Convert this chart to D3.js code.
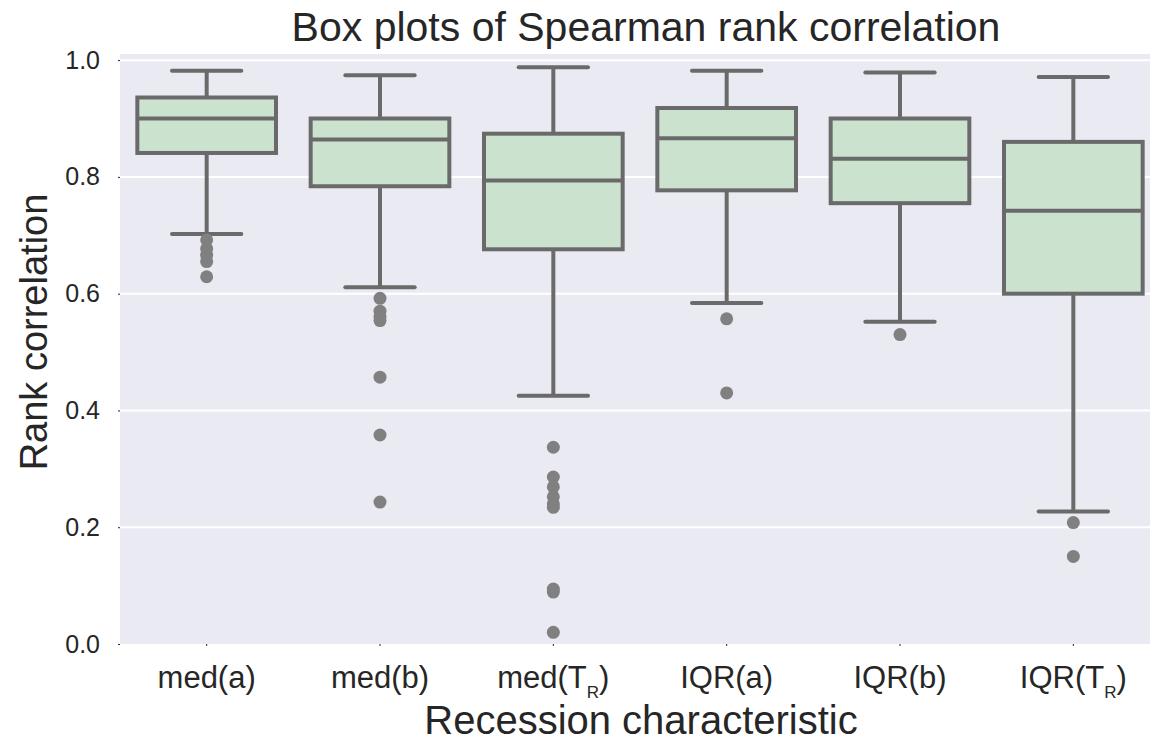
<!DOCTYPE html>
<html>
<head>
<meta charset="utf-8">
<script src="https://cdn.jsdelivr.net/npm/d3@7"></script>
<style>
  body { margin: 0; background: #fff; }
  text { font-family: "Liberation Sans", Arial, sans-serif; fill: #262626; }
</style>
</head>
<body>
<div id="chart"></div>
<script>
// categories: main label text and subscript
const categories = ["med(a)", "med(b)", "med(TR)", "IQR(a)", "IQR(b)", "IQR(TR)"];
const labelMain = ["med(a", "med(b", "med(T", "IQR(a", "IQR(b", "IQR(T"];
const labelSub = ["", "", "R", "", "", "R"];

// box statistics
const whiskerHigh = [0.982, 0.974, 0.988, 0.982, 0.979, 0.971];
const q3 = [0.936, 0.900, 0.874, 0.918, 0.900, 0.860];
const median = [0.900, 0.864, 0.794, 0.866, 0.831, 0.742];
const q1 = [0.841, 0.784, 0.676, 0.777, 0.755, 0.600];
const whiskerLow = [0.702, 0.611, 0.425, 0.584, 0.552, 0.227];
const outliers = [
  [0.692, 0.677, 0.666, 0.655, 0.629],
  [0.592, 0.570, 0.560, 0.554, 0.457, 0.358, 0.243],
  [0.337, 0.286, 0.269, 0.252, 0.240, 0.234, 0.094, 0.089, 0.020],
  [0.557, 0.430],
  [0.530],
  [0.208, 0.150]
];
const yTicks = [0.0, 0.2, 0.4, 0.6, 0.8, 1.0];

let width = 1150;
let height = 743;
let plotLeft = 120, plotRight = 1160, plotTop = 54, plotBottom = 644;

let svg = d3.select("#chart").append("svg")
  .attr("width", width)
  .attr("height", height);

let x = d3.scaleBand()
  .domain(categories)
  .range([plotLeft, plotRight])
  .padding(0);

let y = d3.scaleLinear()
  .domain([0, 1.0105])
  .range([plotBottom, plotTop]);

let boxWidth = x.bandwidth() * 0.8;

// background
svg.append("rect")
  .attr("x", plotLeft)
  .attr("y", plotTop)
  .attr("width", plotRight - plotLeft)
  .attr("height", plotBottom - plotTop)
  .attr("fill", "#eaeaf2");

// grid
svg.append("g")
  .selectAll("line")
  .data(yTicks.filter(d => d > 0))
  .enter()
  .append("line")
  .attr("x1", plotLeft)
  .attr("x2", plotRight)
  .attr("y1", d => y(d))
  .attr("y2", d => y(d))
  .attr("stroke", "#fff")
  .attr("stroke-width", 2);

// axes
let yAxis = d3.axisLeft(y)
  .tickValues(yTicks)
  .tickFormat(d3.format(".1f"))
  .tickSize(2)
  .tickPadding(18);

let gy = svg.append("g")
  .attr("transform", `translate(${plotLeft}, 0)`)
  .call(yAxis);
gy.select(".domain").remove();
gy.selectAll("line").attr("stroke", "#262626").attr("stroke-width", 1);
gy.selectAll("text")
  .attr("font-size", 25)
  .attr("fill", "#262626")
  .style("font-family", "'Liberation Sans', Arial, sans-serif");

let xAxis = d3.axisBottom(x)
  .tickSize(2)
  .tickFormat("");

let gx = svg.append("g")
  .attr("transform", `translate(0, ${plotBottom})`)
  .call(xAxis);
gx.select(".domain").remove();
gx.selectAll("line").attr("stroke", "#262626").attr("stroke-width", 1);

// x tick labels with subscripts
let xLabels = svg.append("g")
  .selectAll("text")
  .data(categories)
  .enter()
  .append("text")
  .attr("x", d => x(d) + x.bandwidth() / 2)
  .attr("y", 688)
  .attr("text-anchor", "middle")
  .attr("font-size", 31);

xLabels.each(function(d, i) {
  let t = d3.select(this);
  t.append("tspan").text(labelMain[i]);
  if (labelSub[i]) {
    t.append("tspan").attr("font-size", 17).attr("dy", 10).text(labelSub[i]);
    t.append("tspan").attr("dy", -10).text(")");
  } else {
    t.append("tspan").text(")");
  }
});

// boxes
let box = svg.append("g")
  .selectAll("g")
  .data(categories)
  .enter()
  .append("g")
  .attr("transform", d => `translate(${x(d) + x.bandwidth() / 2}, 0)`);

let lineColor = "#6a6a6a";

box.append("line")
  .attr("x1", 0).attr("x2", 0)
  .attr("y1", (d, i) => y(whiskerHigh[i]))
  .attr("y2", (d, i) => y(q3[i]))
  .attr("stroke", lineColor).attr("stroke-width", 4);

box.append("line")
  .attr("x1", 0).attr("x2", 0)
  .attr("y1", (d, i) => y(q1[i]))
  .attr("y2", (d, i) => y(whiskerLow[i]))
  .attr("stroke", lineColor).attr("stroke-width", 4);

box.append("line")
  .attr("x1", -boxWidth / 4).attr("x2", boxWidth / 4)
  .attr("y1", (d, i) => y(whiskerHigh[i]))
  .attr("y2", (d, i) => y(whiskerHigh[i]))
  .attr("stroke", lineColor).attr("stroke-width", 4)
  .attr("stroke-linecap", "round");

box.append("line")
  .attr("x1", -boxWidth / 4).attr("x2", boxWidth / 4)
  .attr("y1", (d, i) => y(whiskerLow[i]))
  .attr("y2", (d, i) => y(whiskerLow[i]))
  .attr("stroke", lineColor).attr("stroke-width", 4)
  .attr("stroke-linecap", "round");

box.append("rect")
  .attr("x", -boxWidth / 2)
  .attr("width", boxWidth)
  .attr("y", (d, i) => y(q3[i]))
  .attr("height", (d, i) => y(q1[i]) - y(q3[i]))
  .attr("fill", "#cbe2cf")
  .attr("stroke", lineColor).attr("stroke-width", 4);

box.append("line")
  .attr("x1", -boxWidth / 2).attr("x2", boxWidth / 2)
  .attr("y1", (d, i) => y(median[i]))
  .attr("y2", (d, i) => y(median[i]))
  .attr("stroke", lineColor).attr("stroke-width", 4);

box.each(function(d, i) {
  d3.select(this).selectAll("circle")
    .data(outliers[i])
    .enter()
    .append("circle")
    .attr("cx", 0)
    .attr("cy", v => y(v))
    .attr("r", 6.5)
    .attr("fill", "#808080");
});

// titles
svg.append("text")
  .attr("x", 646)
  .attr("y", 41)
  .attr("text-anchor", "middle")
  .attr("font-size", 41)
  .text("Box plots of Spearman rank correlation");

svg.append("text")
  .attr("x", 641)
  .attr("y", 734)
  .attr("text-anchor", "middle")
  .attr("font-size", 40)
  .text("Recession characteristic");

svg.append("text")
  .attr("transform", `translate(47, 332) rotate(-90)`)
  .attr("text-anchor", "middle")
  .attr("font-size", 38)
  .text("Rank correlation");
</script>
</body>
</html>
